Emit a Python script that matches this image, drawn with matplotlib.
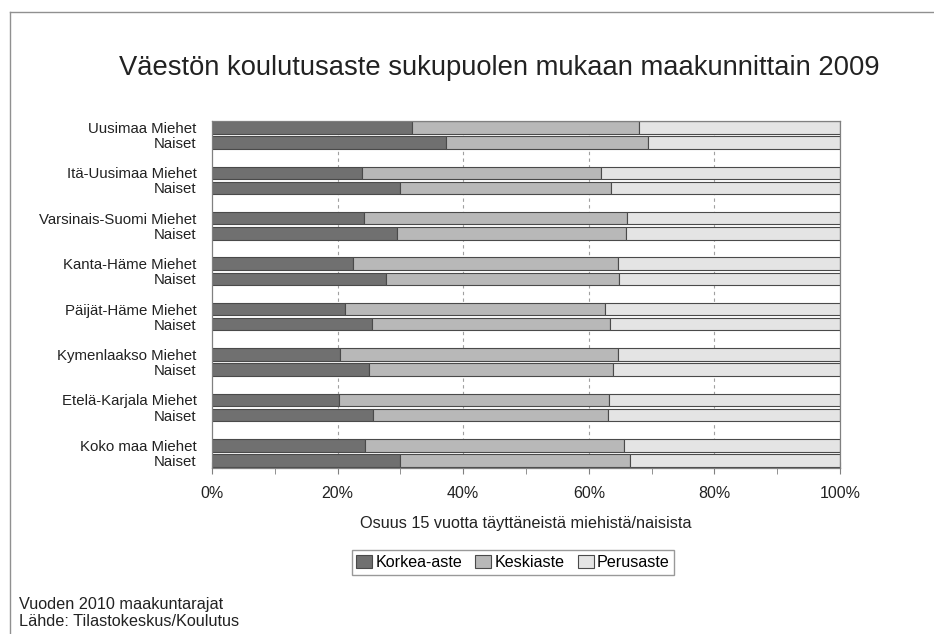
import numpy as np
import matplotlib.pyplot as plt
from matplotlib.lines import Line2D

plt.rcParams['font.family'] = ['Liberation Sans', 'DejaVu Sans']

regions = ["Uusimaa", "Itä-Uusimaa", "Varsinais-Suomi", "Kanta-Häme",
           "Päijät-Häme", "Kymenlaakso", "Etelä-Karjala", "Koko maa"]

# shares in %, Miehet / Naiset per region
korkea_m = [31.9, 23.9, 24.2, 22.4, 21.1, 20.4, 20.2, 24.3]
korkea_n = [37.3, 29.9, 29.4, 27.7, 25.4, 25.0, 25.6, 30.0]
keski_m = [36.1, 38.0, 41.8, 42.2, 41.4, 44.2, 43.0, 41.3]
keski_n = [32.2, 33.6, 36.5, 37.1, 38.0, 38.9, 37.5, 36.6]

series = ["Korkea-aste", "Keskiaste", "Perusaste"]
colors = ["#707070", "#b8b8b8", "#e4e4e4"]

# interleave men/women
korkea = []
keski = []
labels = []
pos = []
for i, r in enumerate(regions):
    korkea += [korkea_m[i], korkea_n[i]]
    keski += [keski_m[i], keski_n[i]]
    labels += [r + " Miehet", "Naiset"]
    pos += [3 * i, 3 * i + 1]
korkea = np.array(korkea)
keski = np.array(keski)
perus = 100 - korkea - keski
pos = np.array(pos)

fig = plt.figure(figsize=(9.34, 6.34), dpi=100)
ax = fig.add_axes([0.227, 0.2618, 0.6724, 0.548])

h = 0.82
kw = dict(height=h, edgecolor="#4a4a4a", linewidth=0.8, zorder=2)
ax.barh(pos, korkea, color=colors[0], label=series[0], **kw)
ax.barh(pos, keski, left=korkea, color=colors[1], label=series[1], **kw)
ax.barh(pos, perus, left=korkea + keski, color=colors[2], label=series[2], **kw)

for x in [20, 40, 60, 80]:
    ax.axvline(x, color="#a0a0a0", lw=0.8, ls=(0, (3, 3)), zorder=0)

ax.set_xlim(0, 100)
ax.set_ylim(22.5, -0.45)
ax.set_yticks(pos)
ax.set_yticklabels(labels, fontsize=10.8, color="#222222")
ax.tick_params(axis="y", length=0, pad=11)
ax.set_xticks(np.arange(0, 101, 20))
ax.set_xticklabels([f"{v}%" for v in range(0, 101, 20)], fontsize=11.5,
                   color="#222222")
ax.set_xticks(np.arange(0, 101, 10), minor=True)
ax.tick_params(axis="x", which="major", direction="inout", length=8,
               color="#808080", pad=9)
ax.tick_params(axis="x", which="minor", direction="out", length=4,
               color="#808080")
for s in ax.spines.values():
    s.set_color("#808080")
    s.set_linewidth(0.9)

ax.set_xlabel("Osuus 15 vuotta täyttäneistä miehistä/naisista",
              fontsize=11.7, labelpad=11, color="#222222")

fig.text(0.534, 0.893, "Väestön koulutusaste sukupuolen mukaan maakunnittain 2009",
         ha="center", va="center", fontsize=19.7, color="#222222")

fig.legend(loc="center", bbox_to_anchor=(513 / 934, 1 - 562.5 / 634), ncol=3,
           fontsize=11.6, frameon=True, fancybox=False, edgecolor="#808080",
           handlelength=1.0, handleheight=0.8, handletextpad=0.2,
           columnspacing=0.8, borderpad=0.3)

fig.text(19 / 934, 1 - 604 / 634, "Vuoden 2010 maakuntarajat", fontsize=11.7,
         va="center", color="#222222")
fig.text(19 / 934, 1 - 621 / 634, "Lähde: Tilastokeskus/Koulutus", fontsize=11.7,
         va="center", color="#222222")

# outer frame
fig.add_artist(Line2D([10 / 934, 10 / 934], [0, 1 - 12 / 634],
                      transform=fig.transFigure, color="#909090", lw=1))
fig.add_artist(Line2D([10 / 934, 1], [1 - 12 / 634, 1 - 12 / 634],
                      transform=fig.transFigure, color="#909090", lw=1))

fig.savefig("out.png", dpi=100)
